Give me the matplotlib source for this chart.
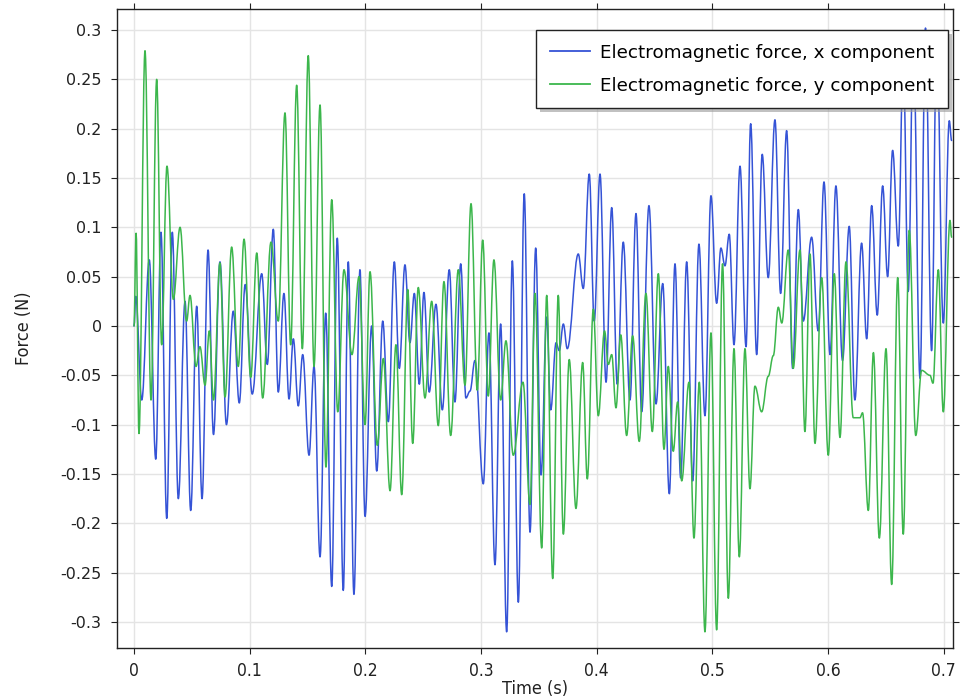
import matplotlib
matplotlib.use("Agg")
import matplotlib.pyplot as plt
from matplotlib.path import Path
from matplotlib.patches import PathPatch
from matplotlib.lines import Line2D
from matplotlib.ticker import FuncFormatter, MultipleLocator
import matplotlib.patheffects as pe

# ---- data: local extrema (time s, force N) ----
fx_time = [0.0, 0.0015, 0.0067, 0.0132, 0.0188, 0.0233, 0.0283, 0.0331, 0.0383, 0.0441,
           0.0490, 0.0542, 0.0588, 0.0640, 0.0687, 0.0743, 0.0799, 0.0858, 0.0910, 0.0961,
           0.1022, 0.1104, 0.1152, 0.1204, 0.1247, 0.1296, 0.1340, 0.1377, 0.1420, 0.1458,
           0.1513, 0.1556, 0.1608, 0.1657, 0.1709, 0.1757, 0.1809, 0.1852, 0.1901, 0.1953,
           0.1997, 0.2054, 0.2098, 0.2150, 0.2198, 0.2250, 0.2293, 0.2342, 0.2385, 0.2423,
           0.2466, 0.2506, 0.2552, 0.2610, 0.2665, 0.2725, 0.2774, 0.2824, 0.2869, 0.2904,
           0.2947, 0.3019, 0.3068, 0.3120, 0.3169, 0.3221, 0.3270, 0.3322, 0.3373, 0.3423,
           0.3472, 0.3518, 0.3567, 0.3602, 0.3648, 0.3676, 0.3711, 0.3745, 0.3840, 0.3883,
           0.3935, 0.3978, 0.4028, 0.4080, 0.4129, 0.4177, 0.4229, 0.4287, 0.4339, 0.4388,
           0.4451, 0.4512, 0.4570, 0.4627, 0.4676, 0.4725, 0.4777, 0.4829, 0.4883, 0.4935,
           0.4987, 0.5036, 0.5073, 0.5108, 0.5145, 0.5186, 0.5238, 0.5290, 0.5330, 0.5382,
           0.5430, 0.5482, 0.5540, 0.5589, 0.5641, 0.5693, 0.5742, 0.5785, 0.5857, 0.5914,
           0.5964, 0.6016, 0.6067, 0.6124, 0.6182, 0.6231, 0.6289, 0.6333, 0.6376, 0.6424,
           0.6471, 0.6514, 0.6557, 0.6606, 0.6649, 0.6692, 0.6736, 0.6794, 0.6841, 0.6894,
           0.6938, 0.6995, 0.7047, 0.7067]
fx_force = [0.0, 0.03, -0.075, 0.067, -0.135, 0.095, -0.195, 0.095, -0.175, 0.025,
            -0.187, 0.02, -0.175, 0.077, -0.11, 0.065, -0.1, 0.015, -0.078, 0.042,
            -0.069, 0.053, -0.039, 0.098, -0.067, 0.033, -0.074, -0.013, -0.081, -0.029,
            -0.131, -0.041, -0.234, 0.013, -0.264, 0.089, -0.268, 0.065, -0.272, 0.057,
            -0.193, 0.0, -0.147, 0.005, -0.097, 0.065, -0.043, 0.062, -0.017, 0.033,
            -0.059, 0.034, -0.067, 0.022, -0.085, 0.057, -0.077, 0.063, -0.073, -0.066,
            -0.035, -0.16, -0.007, -0.242, 0.002, -0.31, 0.066, -0.28, 0.134, -0.209,
            0.079, -0.151, 0.009, -0.085, -0.017, -0.025, 0.002, -0.023, 0.073, 0.038,
            0.154, 0.005, 0.154, -0.057, 0.12, -0.059, 0.085, -0.075, 0.114, -0.087,
            0.122, -0.079, 0.043, -0.17, 0.063, -0.154, 0.065, -0.157, 0.083, -0.091,
            0.132, 0.023, 0.079, 0.061, 0.093, -0.019, 0.162, -0.021, 0.205, -0.029,
            0.174, 0.049, 0.209, 0.033, 0.198, -0.043, 0.118, 0.005, 0.09, -0.005,
            0.146, -0.029, 0.142, -0.035, 0.101, -0.075, 0.084, -0.013, 0.122, 0.011,
            0.142, 0.05, 0.178, 0.081, 0.27, 0.035, 0.29, -0.053, 0.302, -0.025,
            0.295, 0.003, 0.208, 0.188]

fy_time = [0.0, 0.0018, 0.0043, 0.0095, 0.0147, 0.0196, 0.0239, 0.0285, 0.0340, 0.0398,
           0.0455, 0.0484, 0.0536, 0.0570, 0.0614, 0.0651, 0.0687, 0.0743, 0.0787, 0.0844,
           0.0901, 0.0951, 0.1009, 0.1061, 0.1112, 0.1184, 0.1247, 0.1305, 0.1354, 0.1406,
           0.1455, 0.1506, 0.1556, 0.1608, 0.1659, 0.1709, 0.1761, 0.1815, 0.1884, 0.1945,
           0.1997, 0.2040, 0.2103, 0.2155, 0.2213, 0.2264, 0.2314, 0.2366, 0.2409, 0.2457,
           0.2515, 0.2573, 0.2630, 0.2679, 0.2737, 0.2803, 0.2861, 0.2913, 0.2967, 0.3014,
           0.3062, 0.3111, 0.3169, 0.3215, 0.3278, 0.3362, 0.3423, 0.3466, 0.3524, 0.3567,
           0.3619, 0.3667, 0.3711, 0.3762, 0.3820, 0.3878, 0.3918, 0.3970, 0.4013, 0.4067,
           0.4100, 0.4129, 0.4166, 0.4207, 0.4258, 0.4310, 0.4367, 0.4425, 0.4480, 0.4532,
           0.4581, 0.4618, 0.4661, 0.4699, 0.4734, 0.4797, 0.4840, 0.4886, 0.4935, 0.4987,
           0.5036, 0.5087, 0.5137, 0.5186, 0.5232, 0.5281, 0.5324, 0.5367, 0.5425, 0.5482,
           0.5526, 0.5569, 0.5599, 0.5655, 0.5698, 0.5756, 0.5799, 0.5843, 0.5886, 0.5944,
           0.6001, 0.6053, 0.6102, 0.6154, 0.6217, 0.6275, 0.6297, 0.6347, 0.6391, 0.6442,
           0.6500, 0.6549, 0.6601, 0.6649, 0.6701, 0.6757, 0.6808, 0.6880, 0.6906, 0.6952,
           0.6995, 0.7053, 0.7067]
fy_force = [0.0, 0.094, -0.109, 0.279, -0.075, 0.25, -0.019, 0.162, 0.027, 0.1,
            0.005, 0.031, -0.041, -0.021, -0.06, -0.005, -0.075, 0.064, -0.072, 0.08,
            -0.041, 0.088, -0.052, 0.074, -0.073, 0.085, 0.005, 0.216, -0.019, 0.244,
            -0.023, 0.274, -0.041, 0.224, -0.143, 0.128, -0.087, 0.057, -0.029, 0.05,
            -0.1, 0.055, -0.121, -0.033, -0.167, -0.019, -0.171, 0.037, -0.119, 0.039,
            -0.073, 0.025, -0.101, 0.045, -0.111, 0.057, -0.06, 0.124, -0.065, 0.087,
            -0.071, 0.067, -0.075, -0.015, -0.131, -0.057, -0.181, 0.033, -0.225, 0.031,
            -0.256, 0.031, -0.211, -0.034, -0.185, -0.037, -0.155, 0.017, -0.091, -0.005,
            -0.039, -0.029, -0.083, -0.009, -0.111, -0.01, -0.117, 0.033, -0.107, 0.053,
            -0.125, -0.041, -0.127, -0.077, -0.157, -0.057, -0.215, -0.057, -0.31, -0.007,
            -0.308, 0.063, -0.276, -0.023, -0.234, -0.023, -0.165, -0.061, -0.087, -0.051,
            -0.03, 0.019, 0.003, 0.077, -0.043, 0.077, -0.107, 0.073, -0.119, 0.049,
            -0.131, 0.053, -0.113, 0.065, -0.093, -0.093, -0.088, -0.187, -0.027, -0.215,
            -0.023, -0.262, 0.049, -0.211, 0.097, -0.111, -0.045, -0.05, -0.058, 0.057,
            -0.087, 0.107, 0.09]

series_labels = ["Electromagnetic force, x component", "Electromagnetic force, y component"]
series_colors = ["#3553d6", "#3cb64c"]
x_ticks = [0, 0.1, 0.2, 0.3, 0.4, 0.5, 0.6, 0.7]


def smooth_path(t, y, k=0.38):
    """Cubic Bezier path through extrema with flat tangents (sine-like swings)."""
    verts = [(t[0], y[0])]
    codes = [Path.MOVETO]
    for i in range(len(t) - 1):
        dt = t[i + 1] - t[i]
        verts += [(t[i] + k * dt, y[i]), (t[i + 1] - k * dt, y[i + 1]), (t[i + 1], y[i + 1])]
        codes += [Path.CURVE4] * 3
    return Path(verts, codes)


fig = plt.figure(figsize=(9.68, 7.0), dpi=100)
ax = fig.add_axes([117 / 968, 1 - 648 / 700, (953 - 117) / 968, (648 - 9) / 700])

for t, f, c in [(fx_time, fx_force, series_colors[0]), (fy_time, fy_force, series_colors[1])]:
    ax.add_patch(PathPatch(smooth_path(t, f), facecolor="none", edgecolor=c, lw=1.1,
                           capstyle="round", joinstyle="round", zorder=3))

ax.set_xlim(-0.0147, 0.7079)
ax.set_ylim(-0.3264, 0.3213)
ax.set_xticks(x_ticks)
ax.yaxis.set_major_locator(MultipleLocator(0.05))


def yfmt(v, pos):
    s = f"{v:.2f}".rstrip("0").rstrip(".")
    if s in ("-0", "0"):
        return "0"
    return s


def xfmt(v, pos):
    s = f"{v:.1f}"
    return "0" if s in ("0.0", "-0.0") else s


ax.yaxis.set_major_formatter(FuncFormatter(yfmt))
ax.xaxis.set_major_formatter(FuncFormatter(xfmt))

ax.grid(True, color="#e4e4e4", lw=1.0, zorder=0)
ax.set_axisbelow(True)
ax.tick_params(axis="both", which="major", direction="out", length=4, width=0.8,
               top=True, right=True, color="#222222", labelcolor="#222222")
ax.tick_params(axis="y", labelsize=11.5, pad=7)
ax.tick_params(axis="x", labelsize=12.5, pad=6)
for lab in ax.get_xticklabels():
    lab.set_fontstretch("condensed")
for sp in ax.spines.values():
    sp.set_linewidth(1.0)
    sp.set_color("#222222")

ax.set_xlabel("Time (s)", fontsize=13, fontstretch="condensed", color="#222222", labelpad=0)
ax.set_ylabel("Force (N)", fontsize=13, fontstretch="condensed", color="#222222", labelpad=20)

handles = [Line2D([], [], color=c, lw=1.3) for c in series_colors]
leg = ax.legend(handles, series_labels, loc="upper right", bbox_to_anchor=(0.994, 0.967),
                borderaxespad=0, fontsize=13.2, frameon=True, fancybox=False, shadow=False,
                handlelength=2.2, handletextpad=0.55, labelspacing=0.8, borderpad=0.75)
frame = leg.get_frame()
frame.set_edgecolor("#222222")
frame.set_linewidth(1.0)
frame.set_facecolor("white")
frame.set_alpha(1.0)
frame.set_path_effects([pe.SimplePatchShadow(offset=(3, -3), shadow_rgbFace="#999999", alpha=0.6),
                        pe.Normal()])
leg.set_zorder(10)

fig.savefig("out.png", dpi=100)
